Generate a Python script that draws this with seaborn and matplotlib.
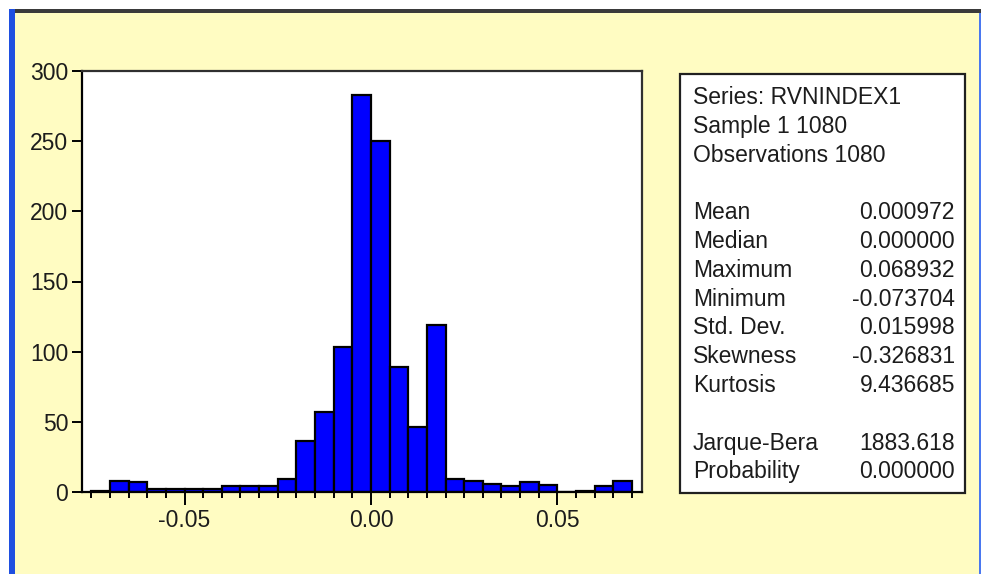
import numpy as np
import pandas as pd
import seaborn as sns
import matplotlib
matplotlib.use("Agg")
import matplotlib.pyplot as plt
from matplotlib.patches import Rectangle

# Histogram of RVNINDEX1 returns, bins of width 0.005 from -0.075 to 0.070
bin_left = [-0.075, -0.070, -0.065, -0.060, -0.055, -0.050, -0.045, -0.040,
            -0.035, -0.030, -0.025, -0.020, -0.015, -0.010, -0.005, 0.000,
            0.005, 0.010, 0.015, 0.020, 0.025, 0.030, 0.035, 0.040,
            0.045, 0.050, 0.055, 0.060, 0.065]
counts = [1, 8, 7, 2, 2, 2, 2, 4,
          4, 4, 9, 36, 57, 103, 283, 250,
          89, 46, 119, 9, 8, 6, 4, 7,
          5, 0, 1, 4, 8]
bin_width = 0.005

y_ticks = [0, 50, 100, 150, 200, 250, 300]
x_ticks = [-0.05, 0.00, 0.05]
x_tick_labels = ["-0.05", "0.00", "0.05"]

header_lines = ["Series: RVNINDEX1", "Sample 1 1080", "Observations 1080"]
stat_names = ["Mean", "Median", "Maximum", "Minimum", "Std. Dev.",
              "Skewness", "Kurtosis"]
stat_values = ["0.000972", "0.000000", "0.068932", "-0.073704", "0.015998",
               "-0.326831", "9.436685"]
test_names = ["Jarque-Bera", "Probability"]
test_values = ["1883.618", "0.000000"]

sns.set_theme(style="white")
plt.rcParams["font.family"] = ["Liberation Sans", "DejaVu Sans"]

W, H = 981, 574
BG = "#FFFCC2"
TXT = "#1c1c1c"
FS = 16.5

fig = plt.figure(figsize=(W / 100, H / 100), dpi=100, facecolor=BG)

def fx(px):
    return px / W

def fy(py):
    return 1 - py / H

# window frame: white margin, dark top rule, blue left and right edges
fig.patches.append(Rectangle((0, fy(9)), 1, 9 / H, transform=fig.transFigure,
                             facecolor="white", edgecolor="none", zorder=0))
fig.patches.append(Rectangle((0, 0), fx(9), 1, transform=fig.transFigure,
                             facecolor="white", edgecolor="none", zorder=0))
fig.patches.append(Rectangle((fx(9), fy(13)), 1, 4 / H, transform=fig.transFigure,
                             facecolor="#3a3a3a", edgecolor="none", zorder=1))
fig.patches.append(Rectangle((fx(9), 0), 6 / W, fy(9), transform=fig.transFigure,
                             facecolor="#1f4fe0", edgecolor="none", zorder=1))
fig.patches.append(Rectangle((fx(979), 0), 2 / W, fy(13), transform=fig.transFigure,
                             facecolor="#4a78f0", edgecolor="none", zorder=1))

ax = fig.add_axes([fx(82), fy(492), fx(642) - fx(82), fy(71) - fy(492)])
ax.set_facecolor("white")

edges = list(bin_left) + [bin_left[-1] + bin_width]
centers = [b + bin_width / 2 for b in bin_left]
df = pd.DataFrame({"value": centers, "count": counts})
sns.histplot(data=df, x="value", weights="count", bins=edges, ax=ax,
             color="#0000FF", edgecolor="black", linewidth=1.6, alpha=1.0)

ax.set_xlim(-0.0775, 0.0727)
ax.set_ylim(0, 300)
ax.set_xlabel("")
ax.set_ylabel("")
ax.set_yticks(y_ticks)
ax.set_xticks(x_ticks)
ax.set_xticklabels(x_tick_labels)
ax.set_xticks(edges, minor=True)

for side in ["left", "bottom", "top", "right"]:
    ax.spines[side].set_visible(True)
    ax.spines[side].set_color("black")
    ax.spines[side].set_linewidth(1.6)
ax.spines["top"].set_color("#303030")
ax.spines["right"].set_color("#303030")

ax.tick_params(axis="y", which="major", direction="out", length=7, width=1.4,
               color="black", left=True, labelsize=FS, labelcolor=TXT, pad=3)
ax.tick_params(axis="x", which="major", direction="out", length=9, width=1.4,
               color="black", bottom=True, labelsize=FS, labelcolor=TXT, pad=3)
ax.tick_params(axis="x", which="minor", direction="out", length=4.5, width=1.4,
               color="black", bottom=True)

# statistics panel
fig.patches.append(Rectangle((fx(680), fy(493)), fx(965) - fx(680), fy(74) - fy(493),
                             transform=fig.transFigure, facecolor="white",
                             edgecolor="#202020", linewidth=1.6, zorder=2))

row_h = 28.8
y0 = 95
lx, rx = 693, 955

for i, line in enumerate(header_lines):
    fig.text(fx(lx), fy(y0 + i * row_h), line, ha="left", va="center_baseline",
             fontsize=FS, color=TXT, zorder=3)
for i, (name, val) in enumerate(zip(stat_names, stat_values)):
    yy = fy(y0 + (4 + i) * row_h)
    fig.text(fx(lx), yy, name, ha="left", va="center_baseline", fontsize=FS,
             color=TXT, zorder=3)
    fig.text(fx(rx), yy, val, ha="right", va="center_baseline", fontsize=FS,
             color=TXT, zorder=3)
for i, (name, val) in enumerate(zip(test_names, test_values)):
    yy = fy(y0 + (12 + i) * row_h)
    fig.text(fx(lx), yy, name, ha="left", va="center_baseline", fontsize=FS,
             color=TXT, zorder=3)
    fig.text(fx(rx), yy, val, ha="right", va="center_baseline", fontsize=FS,
             color=TXT, zorder=3)

fig.savefig("out.png", dpi=100, facecolor=BG)
